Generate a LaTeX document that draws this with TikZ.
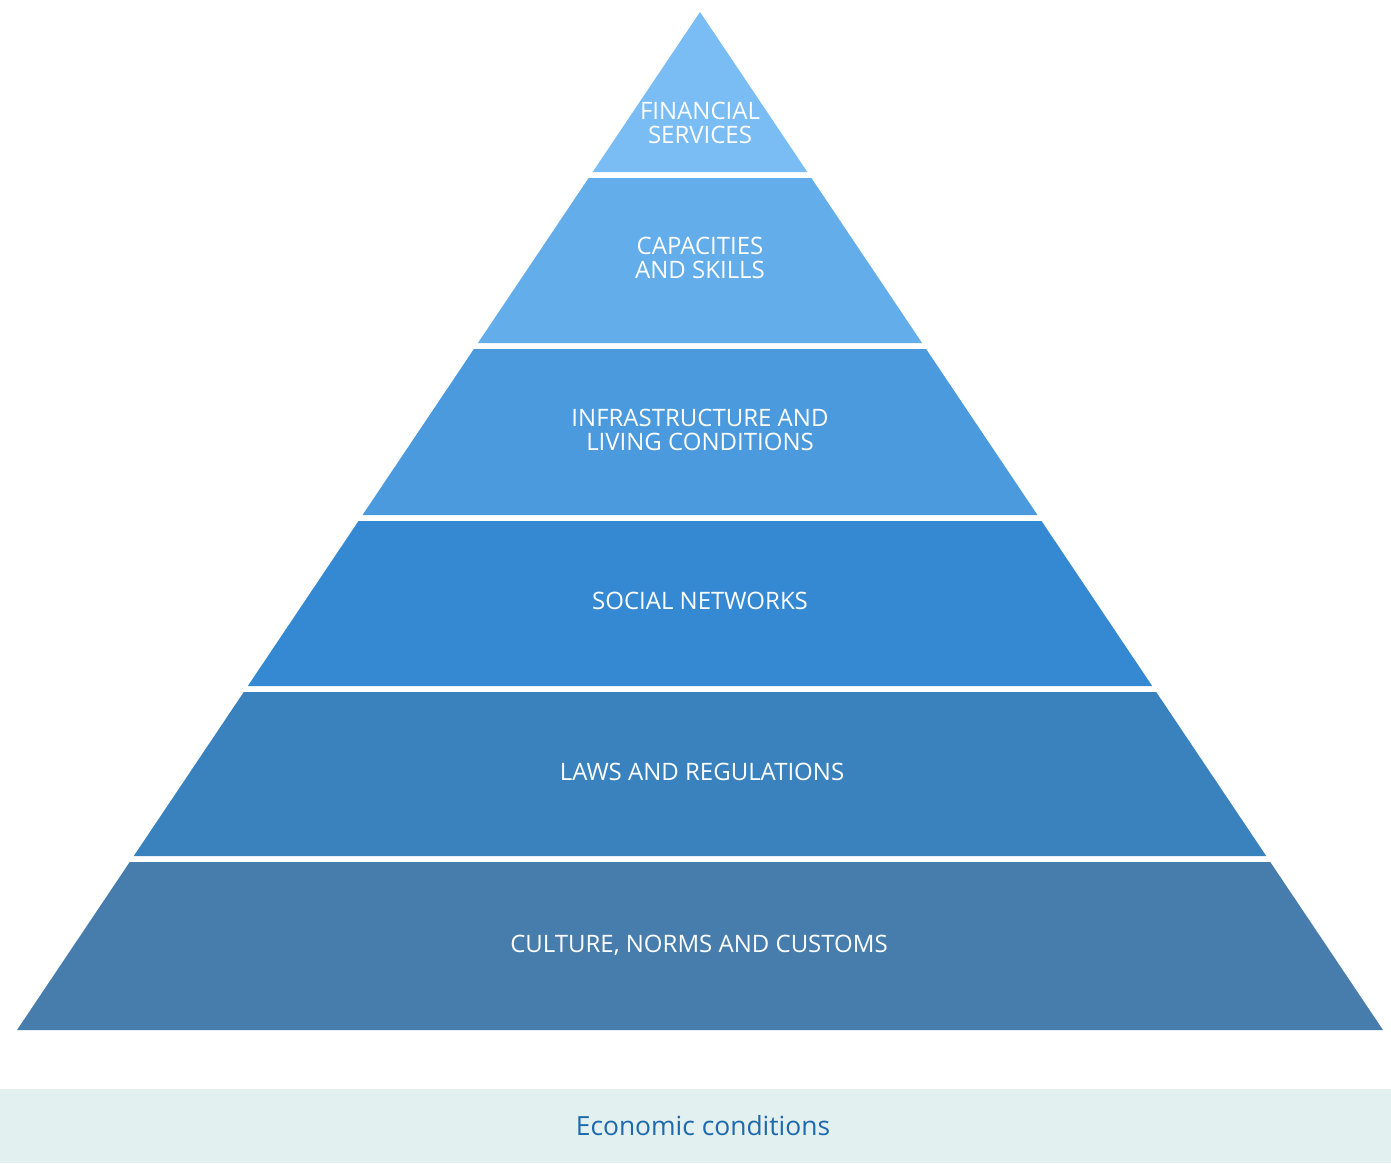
\documentclass[tikz,border=0pt]{standalone}
\usepackage{fontspec}
\setmainfont{Open Sans}
\definecolor{levelA}{HTML}{7ABDF5}
\definecolor{levelB}{HTML}{62ADEA}
\definecolor{levelC}{HTML}{4A9ADD}
\definecolor{levelD}{HTML}{3589D3}
\definecolor{levelE}{HTML}{3A82BE}
\definecolor{levelF}{HTML}{477DAC}
\definecolor{baseband}{HTML}{E2F0F0}
\definecolor{basetext}{HTML}{1F69AD}

\begin{document}
\begin{tikzpicture}[x=0.5pt,y=-0.5pt]
		\tikzstyle {level label} = [text=white, align=center, font=\fontsize{12}{12}\selectfont]
		\useasboundingbox (0,0) rectangle (1391,1163);

		% pyramid bands, top to bottom
		\foreach \t/\b/\c in {12/172/levelA, 178/343/levelB, 349/515/levelC,
		                      521/686/levelD, 692/856/levelE, 862/1030/levelF}
		  \fill[\c] ({700-0.6709*(\t-12)},\t) -- ({700+0.6709*(\t-12)},\t)
		    -- ({700+0.6709*(\b-12)},\b) -- ({700-0.6709*(\b-12)},\b) -- cycle;

		\node[level label] (finance) at (700,123) {FINANCIAL\\SERVICES};
		\node[level label] (skills) at (700,258) {CAPACITIES\\AND SKILLS};
		\node[level label] (infra) at (700,430) {INFRASTRUCTURE AND\\LIVING CONDITIONS};
		\node[level label] (social) at (700,601) {SOCIAL NETWORKS};
		\node[level label] (laws) at (702,772) {LAWS AND REGULATIONS};
		\node[level label] (culture) at (699,945) {CULTURE, NORMS AND CUSTOMS};

		% economic conditions bar
		\fill[baseband] (0,1089) rectangle (1391,1163);
		\node[text=basetext, font=\fontsize{13.2}{16}\selectfont] (economy) at (703,1126) {Economic conditions};
\end{tikzpicture}
\end{document}
